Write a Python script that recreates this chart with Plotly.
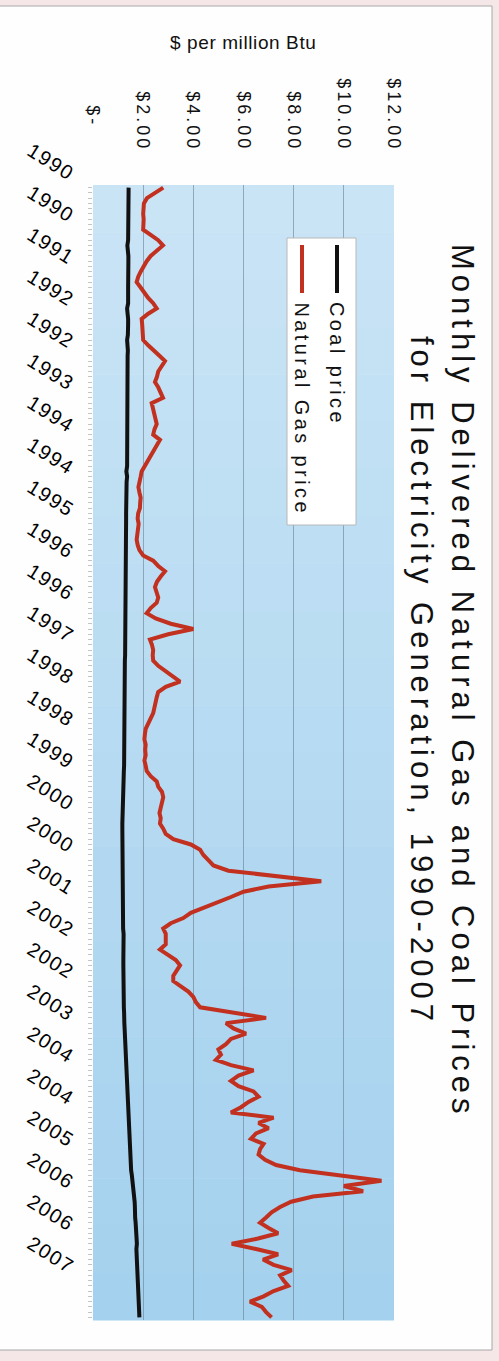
import plotly.graph_objects as go

# ---------------- data ----------------
year_labels = ['1990', '1990', '1991', '1992', '1992', '1993', '1994', '1994', '1995',
               '1996', '1996', '1997', '1998', '1998', '1999', '2000', '2000', '2001',
               '2002', '2002', '2003', '2004', '2004', '2005', '2006', '2006', '2007']
label_months = [0, 8, 16, 24, 32, 40, 48, 56, 64, 72, 80, 88, 96, 104, 112, 120, 128,
                136, 144, 152, 160, 168, 176, 184, 192, 200, 208]
price_ticks = [0, 2, 4, 6, 8, 10, 12]
price_tick_labels = ['$-', '$2.00', '$4.00', '$6.00', '$8.00', '$10.00', '$12.00']

coal_1990 = [1.42, 1.42, 1.41, 1.41, 1.41, 1.41, 1.41, 1.41, 1.41, 1.41, 1.40, 1.37]
coal_1991 = [1.41, 1.41, 1.41, 1.40, 1.40, 1.40, 1.40, 1.40, 1.40, 1.40, 1.40, 1.36]
coal_1992 = [1.40, 1.40, 1.40, 1.40, 1.39, 1.36, 1.39, 1.39, 1.38, 1.38, 1.38, 1.38]
coal_1993 = [1.38, 1.38, 1.38, 1.37, 1.37, 1.37, 1.37, 1.37, 1.37, 1.37, 1.37, 1.37]
coal_1994 = [1.34, 1.37, 1.36, 1.36, 1.36, 1.36, 1.33, 1.36, 1.34, 1.33, 1.33, 1.33]
coal_1995 = [1.32, 1.32, 1.32, 1.32, 1.32, 1.32, 1.31, 1.31, 1.31, 1.31, 1.31, 1.30]
coal_1996 = [1.30, 1.30, 1.29, 1.29, 1.29, 1.29, 1.29, 1.29, 1.29, 1.28, 1.28, 1.28]
coal_1997 = [1.28, 1.28, 1.32, 1.28, 1.28, 1.28, 1.27, 1.27, 1.27, 1.27, 1.27, 1.27]
coal_1998 = [1.27, 1.26, 1.26, 1.26, 1.26, 1.26, 1.26, 1.25, 1.25, 1.25, 1.25, 1.25]
coal_1999 = [1.24, 1.24, 1.24, 1.23, 1.22, 1.22, 1.21, 1.21, 1.20, 1.18, 1.17, 1.17]
coal_2000 = [1.17, 1.17, 1.17, 1.17, 1.17, 1.17, 1.17, 1.17, 1.17, 1.18, 1.18, 1.18]
coal_2001 = [1.18, 1.18, 1.18, 1.18, 1.19, 1.19, 1.19, 1.20, 1.20, 1.20, 1.22, 1.21]
coal_2002 = [1.21, 1.21, 1.21, 1.21, 1.21, 1.21, 1.21, 1.21, 1.21, 1.20, 1.19, 1.20]
coal_2003 = [1.23, 1.24, 1.26, 1.25, 1.26, 1.27, 1.28, 1.28, 1.29, 1.30, 1.31, 1.32]
coal_2004 = [1.33, 1.34, 1.35, 1.36, 1.37, 1.38, 1.38, 1.40, 1.41, 1.43, 1.44, 1.45]
coal_2005 = [1.44, 1.45, 1.46, 1.46, 1.47, 1.48, 1.50, 1.52, 1.55, 1.58, 1.61, 1.64]
coal_2006 = [1.65, 1.66, 1.67, 1.66, 1.68, 1.70, 1.72, 1.74, 1.74, 1.75, 1.73, 1.74]
coal_2007 = [1.76, 1.77, 1.78, 1.80, 1.80, 1.81, 1.82, 1.82, 1.83, 1.84, 1.84, 1.85]

gas_1990 = [2.80, 2.45, 2.15, 2.03, 2.01, 2.00, 2.02, 2.00, 2.00, 2.30, 2.60, 2.79]
gas_1991 = [2.55, 2.30, 2.14, 2.00, 1.90, 1.80, 1.74, 1.90, 2.05, 2.20, 2.40, 2.54]
gas_1992 = [2.20, 1.94, 1.96, 1.98, 2.00, 2.00, 2.20, 2.40, 2.65, 2.87, 2.75, 2.60]
gas_1993 = [2.55, 2.47, 2.60, 2.70, 2.79, 2.34, 2.40, 2.45, 2.50, 2.54, 2.45, 2.40]
gas_1994 = [2.67, 2.55, 2.40, 2.30, 2.20, 2.05, 1.94, 1.90, 1.85, 1.81, 1.85, 1.90]
gas_1995 = [1.88, 1.87, 1.80, 1.78, 1.82, 1.79, 1.76, 1.74, 1.78, 1.85, 2.00, 2.40]
gas_1996 = [2.60, 2.87, 2.70, 2.55, 2.47, 2.55, 2.60, 2.54, 2.30, 2.14, 2.50, 3.10]
gas_1997 = [4.00, 3.00, 2.27, 2.35, 2.40, 2.38, 2.40, 2.60, 2.90, 3.20, 3.47, 2.90]
gas_1998 = [2.60, 2.54, 2.50, 2.45, 2.40, 2.30, 2.20, 2.10, 2.07, 2.05, 2.10, 2.08]
gas_1999 = [2.10, 2.05, 2.10, 2.14, 2.30, 2.54, 2.60, 2.75, 2.80, 2.75, 2.70, 2.65]
gas_2000 = [2.70, 2.67, 2.80, 2.90, 3.20, 3.90, 4.27, 4.40, 4.60, 4.80, 5.40, 7.30]
gas_2001 = [9.10, 7.00, 6.00, 5.50, 5.00, 4.40, 3.90, 3.60, 3.10, 2.80, 2.90, 2.90]
gas_2002 = [2.90, 2.67, 3.00, 3.30, 3.47, 3.35, 3.20, 3.20, 3.50, 3.80, 4.00, 4.10]
gas_2003 = [4.27, 5.60, 6.90, 5.30, 5.60, 6.10, 5.50, 5.30, 5.00, 5.10, 4.90, 5.50]
gas_2004 = [6.40, 5.80, 5.50, 5.80, 6.40, 6.60, 6.20, 5.90, 5.50, 7.20, 6.60, 7.00]
gas_2005 = [6.50, 6.30, 6.80, 6.66, 6.60, 6.86, 7.30, 8.25, 9.85, 11.50, 10.00, 10.77]
gas_2006 = [8.77, 7.90, 7.46, 7.12, 6.90, 6.66, 7.00, 7.38, 6.58, 5.53, 6.50, 7.38]
gas_2007 = [6.78, 7.20, 7.92, 7.46, 7.60, 7.78, 7.20, 6.80, 6.26, 6.73, 6.90, 7.12]

coal_price = (coal_1990 + coal_1991 + coal_1992 + coal_1993 + coal_1994 + coal_1995 +
              coal_1996 + coal_1997 + coal_1998 + coal_1999 + coal_2000 + coal_2001 +
              coal_2002 + coal_2003 + coal_2004 + coal_2005 + coal_2006 + coal_2007)
gas_price = (gas_1990 + gas_1991 + gas_1992 + gas_1993 + gas_1994 + gas_1995 +
             gas_1996 + gas_1997 + gas_1998 + gas_1999 + gas_2000 + gas_2001 +
             gas_2002 + gas_2003 + gas_2004 + gas_2005 + gas_2006 + gas_2007)
month_index = list(range(len(gas_price)))

# ---------------- layout geometry (pixels) ----------------
W, H = 499, 1361
PL, PR, PT, PB = 93, 394, 185, 1320
FONT = 'Liberation Sans, Arial, sans-serif'


def px_x(x):
    return (x - PL) / (PR - PL)


def px_y(y):
    return (PB - y) / (PB - PT)


def spaced(text, px):
    return '<span style="letter-spacing:%spx">%s</span>' % (px, text)


fig = go.Figure()
fig.add_trace(go.Scatter(x=coal_price, y=month_index, mode='lines', name='Coal price',
                         line=dict(color='#111111', width=4), showlegend=False))
fig.add_trace(go.Scatter(x=gas_price, y=month_index, mode='lines', name='Natural Gas price',
                         line=dict(color='#c2301f', width=4), showlegend=False))

shapes = []
# page frame
shapes.append(dict(type='rect', xref='paper', yref='paper', layer='below',
                   x0=px_x(-5), x1=px_x(492), y0=px_y(1350), y1=px_y(6),
                   fillcolor='#fefefe', line=dict(color='#a8a8a8', width=1)))
# plot background gradient (light top -> deeper blue bottom)
n_bands = 24
c_top = (201, 228, 245)
c_bot = (164, 209, 238)
for i in range(n_bands):
    t = i / (n_bands - 1)
    c = tuple(round(c_top[k] + (c_bot[k] - c_top[k]) * t) for k in range(3))
    y0 = PT + (PB - PT) * i / n_bands
    y1 = PT + (PB - PT) * (i + 1) / n_bands
    shapes.append(dict(type='rect', xref='paper', yref='paper', layer='below',
                       x0=0, x1=1, y0=px_y(y1 + 0.5), y1=px_y(y0),
                       fillcolor='rgb(%d,%d,%d)' % c, line=dict(width=0)))
# legend box
shapes.append(dict(type='rect', xref='paper', yref='paper', layer='above',
                   x0=px_x(287), x1=px_x(356), y0=px_y(525), y1=px_y(238),
                   fillcolor='#ffffff', line=dict(color='#b8b8b8', width=1)))
shapes.append(dict(type='line', xref='paper', yref='paper', layer='above',
                   x0=px_x(337), x1=px_x(337), y0=px_y(293), y1=px_y(245),
                   line=dict(color='#111111', width=4)))
shapes.append(dict(type='line', xref='paper', yref='paper', layer='above',
                   x0=px_x(302), x1=px_x(302), y0=px_y(293), y1=px_y(245),
                   line=dict(color='#c2301f', width=4)))

annotations = []
# title (rotated, two lines)
annotations.append(dict(xref='paper', yref='paper', x=px_x(463), y=px_y(681),
                        text=spaced('Monthly Delivered Natural Gas and Coal Prices', 5),
                        textangle=90, showarrow=False, xanchor='center', yanchor='middle',
                        font=dict(family=FONT, size=31, color='#111111')))
annotations.append(dict(xref='paper', yref='paper', x=px_x(422), y=px_y(681),
                        text=spaced('for Electricity Generation, 1990-2007', 5),
                        textangle=90, showarrow=False, xanchor='center', yanchor='middle',
                        font=dict(family=FONT, size=31, color='#111111')))
# axis title
annotations.append(dict(xref='paper', yref='paper', x=px_x(243), y=px_y(43),
                        text=spaced('$ per million Btu', 0.6), showarrow=False,
                        xanchor='center', yanchor='middle',
                        font=dict(family=FONT, size=19, color='#111111')))
# legend labels
annotations.append(dict(xref='paper', yref='paper', x=px_x(337), y=px_y(300),
                        text=spaced('Coal price', 3.4), textangle=90, showarrow=False,
                        xanchor='center', yanchor='top',
                        font=dict(family=FONT, size=20, color='#111111')))
annotations.append(dict(xref='paper', yref='paper', x=px_x(302), y=px_y(300),
                        text=spaced('Natural Gas price', 3.4), textangle=90, showarrow=False,
                        xanchor='center', yanchor='top',
                        font=dict(family=FONT, size=20, color='#111111')))

price_text = [spaced(t if t != '$-' else '$-\u00a0\u00a0\u00a0', 3) for t in price_tick_labels]
year_text = [spaced(t, 1.5) for t in year_labels]

fig.update_layout(
    width=W, height=H,
    margin=dict(l=PL, r=W - PR, t=PT, b=H - PB, pad=0),
    paper_bgcolor='#f5e6e8',
    plot_bgcolor='rgba(0,0,0,0)',
    font=dict(family=FONT, color='#111111'),
    shapes=shapes,
    annotations=annotations,
    showlegend=False,
    xaxis=dict(range=[0, 12], side='top', tickmode='array', tickvals=price_ticks,
               ticktext=price_text, tickangle=90, ticks='', showline=False,
               zeroline=False, showgrid=True, gridcolor='rgba(95,120,140,0.55)',
               gridwidth=1, ticklabelstandoff=30,
               tickfont=dict(family=FONT, size=18, color='#111111')),
    yaxis=dict(range=[len(month_index) - 0.5, -0.5], tickmode='array',
               tickvals=label_months, ticktext=year_text,
               tickangle=32, ticks='outside', ticklen=4, tickcolor='#c4c4c4', tickwidth=1,
               showline=False, zeroline=False, showgrid=False, ticklabelstandoff=10,
               ticklabelshift=12,
               minor=dict(dtick=1, ticks='outside', ticklen=4, tickcolor='#c4c4c4',
                          tickwidth=1, showgrid=False),
               tickfont=dict(family=FONT, size=20, color='#000000')),
)

fig.write_html('out.html')
